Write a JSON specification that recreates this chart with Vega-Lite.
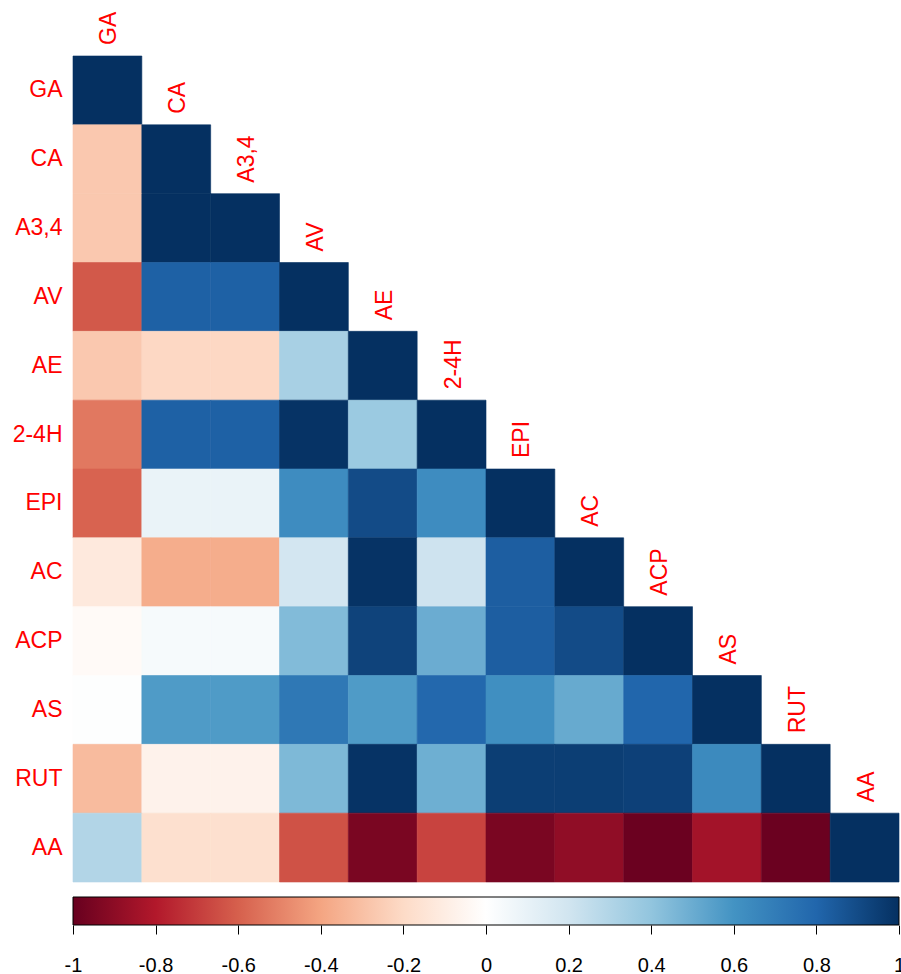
{
  "$schema": "https://vega.github.io/schema/vega-lite/v6.json",
  "padding": {"left": 12, "top": 11, "right": 0, "bottom": 0},
  "background": "white",
  "config": {
    "view": {"stroke": null},
    "font": "Liberation Sans"
  },
  "spacing": 13,
  "datasets": {
    "corr": [
      {"row": "GA", "col": "GA", "r": 1},
      {"row": "CA", "col": "GA", "r": -0.27}, {"row": "CA", "col": "CA", "r": 1},
      {"row": "A3,4", "col": "GA", "r": -0.27}, {"row": "A3,4", "col": "CA", "r": 1}, {"row": "A3,4", "col": "A3,4", "r": 1},
      {"row": "AV", "col": "GA", "r": -0.62}, {"row": "AV", "col": "CA", "r": 0.82}, {"row": "AV", "col": "A3,4", "r": 0.82}, {"row": "AV", "col": "AV", "r": 1},
      {"row": "AE", "col": "GA", "r": -0.27}, {"row": "AE", "col": "CA", "r": -0.21}, {"row": "AE", "col": "A3,4", "r": -0.21}, {"row": "AE", "col": "AV", "r": 0.33}, {"row": "AE", "col": "AE", "r": 1},
      {"row": "2-4H", "col": "GA", "r": -0.53}, {"row": "2-4H", "col": "CA", "r": 0.82}, {"row": "2-4H", "col": "A3,4", "r": 0.82}, {"row": "2-4H", "col": "AV", "r": 0.99}, {"row": "2-4H", "col": "AE", "r": 0.37}, {"row": "2-4H", "col": "2-4H", "r": 1},
      {"row": "EPI", "col": "GA", "r": -0.59}, {"row": "EPI", "col": "CA", "r": 0.09}, {"row": "EPI", "col": "A3,4", "r": 0.09}, {"row": "EPI", "col": "AV", "r": 0.63}, {"row": "EPI", "col": "AE", "r": 0.9}, {"row": "EPI", "col": "2-4H", "r": 0.63}, {"row": "EPI", "col": "EPI", "r": 1},
      {"row": "AC", "col": "GA", "r": -0.12}, {"row": "AC", "col": "CA", "r": -0.37}, {"row": "AC", "col": "A3,4", "r": -0.37}, {"row": "AC", "col": "AV", "r": 0.19}, {"row": "AC", "col": "AE", "r": 0.99}, {"row": "AC", "col": "2-4H", "r": 0.21}, {"row": "AC", "col": "EPI", "r": 0.83}, {"row": "AC", "col": "AC", "r": 1},
      {"row": "ACP", "col": "GA", "r": -0.03}, {"row": "ACP", "col": "CA", "r": 0.04}, {"row": "ACP", "col": "A3,4", "r": 0.04}, {"row": "ACP", "col": "AV", "r": 0.44}, {"row": "ACP", "col": "AE", "r": 0.93}, {"row": "ACP", "col": "2-4H", "r": 0.5}, {"row": "ACP", "col": "EPI", "r": 0.83}, {"row": "ACP", "col": "AC", "r": 0.9}, {"row": "ACP", "col": "ACP", "r": 1},
      {"row": "AS", "col": "GA", "r": 0.01}, {"row": "AS", "col": "CA", "r": 0.57}, {"row": "AS", "col": "A3,4", "r": 0.57}, {"row": "AS", "col": "AV", "r": 0.72}, {"row": "AS", "col": "AE", "r": 0.57}, {"row": "AS", "col": "2-4H", "r": 0.79}, {"row": "AS", "col": "EPI", "r": 0.62}, {"row": "AS", "col": "AC", "r": 0.51}, {"row": "AS", "col": "ACP", "r": 0.8}, {"row": "AS", "col": "AS", "r": 1},
      {"row": "RUT", "col": "GA", "r": -0.32}, {"row": "RUT", "col": "CA", "r": -0.07}, {"row": "RUT", "col": "A3,4", "r": -0.07}, {"row": "RUT", "col": "AV", "r": 0.45}, {"row": "RUT", "col": "AE", "r": 0.99}, {"row": "RUT", "col": "2-4H", "r": 0.49}, {"row": "RUT", "col": "EPI", "r": 0.95}, {"row": "RUT", "col": "AC", "r": 0.95}, {"row": "RUT", "col": "ACP", "r": 0.94}, {"row": "RUT", "col": "AS", "r": 0.64}, {"row": "RUT", "col": "RUT", "r": 1},
      {"row": "AA", "col": "GA", "r": 0.3}, {"row": "AA", "col": "CA", "r": -0.17}, {"row": "AA", "col": "A3,4", "r": -0.17}, {"row": "AA", "col": "AV", "r": -0.64}, {"row": "AA", "col": "AE", "r": -0.95}, {"row": "AA", "col": "2-4H", "r": -0.68}, {"row": "AA", "col": "EPI", "r": -0.95}, {"row": "AA", "col": "AC", "r": -0.89}, {"row": "AA", "col": "ACP", "r": -0.99}, {"row": "AA", "col": "AS", "r": -0.84}, {"row": "AA", "col": "RUT", "r": -0.99}, {"row": "AA", "col": "AA", "r": 1}
    ],
    "bar": [{"lo": -1, "hi": 1}]
  },
  "vconcat": [
    {
      "width": 826,
      "height": 826,
      "data": {"name": "corr"},
      "encoding": {
        "x": {
          "field": "col", "type": "nominal", "axis": null,
          "sort": ["GA", "CA", "A3,4", "AV", "AE", "2-4H", "EPI", "AC", "ACP", "AS", "RUT", "AA"],
          "scale": {"paddingInner": 0, "paddingOuter": 0}
        },
        "y": {
          "field": "row", "type": "nominal",
          "sort": ["GA", "CA", "A3,4", "AV", "AE", "2-4H", "EPI", "AC", "ACP", "AS", "RUT", "AA"],
          "scale": {"paddingInner": 0, "paddingOuter": 0},
          "axis": {
            "title": null, "domain": false, "ticks": false, "grid": false,
            "labelColor": "#FF0000", "labelFontSize": 23, "labelPadding": 11,
            "labelFont": "Liberation Sans"
          }
        }
      },
      "layer": [
        {
          "mark": {"type": "rect", "strokeWidth": 0.6},
          "encoding": {
            "color": {
              "field": "r", "type": "quantitative", "legend": null,
              "scale": {
                "interpolate": "rgb",
                "domain": [-1, -0.8, -0.6, -0.4, -0.2, 0, 0.2, 0.4, 0.6, 0.8, 1],
                "range": ["#67001F", "#B2182B", "#D6604D", "#F4A582", "#FDDBC7", "#FFFFFF", "#D1E5F0", "#92C5DE", "#4393C3", "#2166AC", "#053061"]
              }
            },
            "stroke": {
              "field": "r", "type": "quantitative", "legend": null,
              "scale": {
                "interpolate": "rgb",
                "domain": [-1, -0.8, -0.6, -0.4, -0.2, 0, 0.2, 0.4, 0.6, 0.8, 1],
                "range": ["#67001F", "#B2182B", "#D6604D", "#F4A582", "#FDDBC7", "#FFFFFF", "#D1E5F0", "#92C5DE", "#4393C3", "#2166AC", "#053061"]
              }
            }
          }
        },
        {
          "transform": [{"filter": "datum.row === datum.col"}],
          "mark": {
            "type": "text", "angle": 270, "align": "left", "baseline": "middle",
            "dx": 11, "dy": 2, "fontSize": 23, "color": "#FF0000", "font": "Liberation Sans"
          },
          "encoding": {
            "y": {
              "field": "row", "type": "nominal", "bandPosition": 0,
              "sort": ["GA", "CA", "A3,4", "AV", "AE", "2-4H", "EPI", "AC", "ACP", "AS", "RUT", "AA"]
            },
            "text": {"field": "col"}
          }
        }
      ]
    },
    {
      "width": 826,
      "height": 28,
      "data": {"name": "bar"},
      "mark": {
        "type": "rect",
        "stroke": "#000000",
        "strokeWidth": 1,
        "color": {
          "gradient": "linear", "x1": 0, "x2": 1, "y1": 0, "y2": 0,
          "stops": [
            {"offset": 0, "color": "#67001F"},
            {"offset": 0.1, "color": "#B2182B"},
            {"offset": 0.2, "color": "#D6604D"},
            {"offset": 0.3, "color": "#F4A582"},
            {"offset": 0.4, "color": "#FDDBC7"},
            {"offset": 0.5, "color": "#FFFFFF"},
            {"offset": 0.6, "color": "#D1E5F0"},
            {"offset": 0.7, "color": "#92C5DE"},
            {"offset": 0.8, "color": "#4393C3"},
            {"offset": 0.9, "color": "#2166AC"},
            {"offset": 1, "color": "#053061"}
          ]
        }
      },
      "encoding": {
        "x": {
          "field": "lo", "type": "quantitative",
          "scale": {"domain": [-1, 1], "nice": false, "zero": false},
          "axis": {
            "title": null, "domain": false, "grid": false,
            "values": [-1, -0.8, -0.6, -0.4, -0.2, 0, 0.2, 0.4, 0.6, 0.8, 1],
            "labelExpr": "datum.value < 0 ? '-' + format(-datum.value, '~g') : format(datum.value, '~g')",
            "tickSize": 9, "tickColor": "#000000", "tickWidth": 1,
            "labelColor": "#000000", "labelFontSize": 20, "labelPadding": 21,
            "labelFlush": false, "labelOverlap": false, "labelFont": "Liberation Sans"
          }
        },
        "x2": {"field": "hi"}
      }
    }
  ]
}
